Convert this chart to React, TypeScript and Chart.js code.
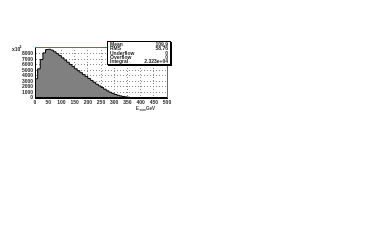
import React, { useEffect, useRef } from "react";
import { Chart, registerables } from "chart.js";

Chart.register(...registerables);

const BIN_WIDTH = 10;
const counts = [
  1500, 3500, 5300, 7000, 8200, 8800, 8850, 8700, 8400, 8050,
  7700, 7300, 6900, 6500, 6100, 5700, 5300, 4950, 4600, 4250,
  3900, 3550, 3200, 2850, 2500, 2200, 1900, 1600, 1300, 1050,
  850, 650, 500, 380, 280, 200, 140, 90, 60, 40,
  20, 10, 0, 0, 0, 0, 0, 0, 0, 0,
];
const xTicks = [0, 50, 100, 150, 200, 250, 300, 350, 400, 450, 500];
const yTicks = [0, 1000, 2000, 3000, 4000, 5000, 6000, 7000, 8000];
const statLabels = ["Mean", "RMS", "Underflow", "Overflow", "Integral"];
const statValues = ["109.9", "58.76", "0", "0", "2.323e+04"];

const FONT = "Liberation Sans";

const overlay = {
  id: "overlay",
  afterDraw(chart: any) {
    const { ctx, chartArea } = chart;
    const { left, right, top, bottom } = chartArea;
    const bx = 107, by = 41, bw = 64, bh = 24;
    ctx.save();
    ctx.lineWidth = 1;
    // axes
    ctx.strokeStyle = "#000";
    ctx.beginPath();
    ctx.moveTo(Math.round(left) + 0.5, top);
    ctx.lineTo(Math.round(left) + 0.5, bottom);
    ctx.moveTo(left, Math.round(bottom) - 0.5);
    ctx.lineTo(right, Math.round(bottom) - 0.5);
    ctx.stroke();
    // frame
    ctx.strokeStyle = "#b04c4c";
    ctx.beginPath();
    ctx.moveTo(left, Math.round(top) + 0.5);
    ctx.lineTo(bx, Math.round(top) + 0.5);
    ctx.moveTo(Math.round(right) + 0.5, by + bh);
    ctx.lineTo(Math.round(right) + 0.5, bottom);
    ctx.stroke();
    // stats box
    ctx.fillStyle = "#000";
    ctx.fillRect(bx + 1, by + 1, bw, bh);
    ctx.fillStyle = "#fff";
    ctx.fillRect(bx, by, bw, bh);
    ctx.strokeStyle = "#000";
    ctx.strokeRect(bx + 0.5, by + 0.5, bw - 1, bh - 1);
    ctx.fillStyle = "#222";
    ctx.font = `bold 5px "${FONT}"`;
    ctx.textBaseline = "middle";
    const lh = (bh - 2) / statLabels.length;
    statLabels.forEach((l, i) => {
      const y = by + 1 + lh * (i + 0.5) + 0.3;
      ctx.textAlign = "left";
      ctx.fillText(l, bx + 3, y);
      ctx.textAlign = "right";
      ctx.fillText(statValues[i], bx + bw - 3, y);
    });
    // x title
    ctx.textAlign = "left";
    ctx.textBaseline = "alphabetic";
    ctx.fillStyle = "#333";
    ctx.font = `bold 4.5px "${FONT}"`;
    ctx.fillText("E", 136, 110);
    ctx.font = `bold 3px "${FONT}"`;
    ctx.fillText("sum", 139.5, 111);
    ctx.font = `bold 4.5px "${FONT}"`;
    ctx.fillText("GeV", 146, 110);
    // y multiplier
    ctx.fillStyle = "#222";
    ctx.font = `bold 5px "${FONT}"`;
    ctx.fillText("x10", 12, 51);
    ctx.font = `bold 3.5px "${FONT}"`;
    ctx.fillText("2", 19.5, 48);
    ctx.restore();
  },
};

export default function App() {
  const ref = useRef<HTMLCanvasElement>(null);
  useEffect(() => {
    if (!ref.current) return;
    const pts = counts.map((c, i) => ({ x: i * BIN_WIDTH, y: c }));
    pts.push({ x: counts.length * BIN_WIDTH, y: 0 });
    const chart = new Chart(ref.current, {
      type: "line",
      data: {
        datasets: [
          {
            data: [{ x: 0, y: 0 }, ...pts],
            stepped: "after",
            fill: "origin",
            backgroundColor: "#808080",
            borderColor: "#000",
            borderWidth: 1,
            pointRadius: 0,
          } as any,
        ],
      },
      options: {
        responsive: false,
        animation: false,
        layout: { padding: { left: 0, top: 47, right: 225, bottom: 0 } },
        plugins: { legend: { display: false }, tooltip: { enabled: false } },
        scales: {
          x: {
            type: "linear",
            min: 0,
            max: 500,
            afterFit: (s: any) => {
              s.height = 142;
            },
            afterBuildTicks: (s: any) => {
              s.ticks = xTicks.map((v) => ({ value: v }));
            },
            border: { color: "#000", width: 1, dash: [1, 2] },
            grid: {
              color: "#888",
              lineWidth: 1,
              drawTicks: false,
            },
            ticks: {
              padding: 2,
              maxRotation: 0,
              autoSkip: false,
              color: "#222",
              font: { family: FONT, size: 5, weight: "bold" },
              callback: (v: any) => String(v),
            },
          },
          y: {
            type: "linear",
            min: 0,
            max: 9270,
            afterFit: (s: any) => {
              s.width = 35;
            },
            afterBuildTicks: (s: any) => {
              s.ticks = yTicks.map((v) => ({ value: v }));
            },
            border: { color: "#000", width: 1, dash: [1, 2] },
            grid: {
              color: "#888",
              lineWidth: 1,
              drawTicks: false,
            },
            ticks: {
              padding: 2,
              autoSkip: false,
              color: "#222",
              font: { family: FONT, size: 5, weight: "bold" },
              callback: (v: any) => String(v),
            },
          },
        },
      },
      plugins: [overlay],
    });
    return () => chart.destroy();
  }, []);
  return (
    <canvas
      ref={ref}
      width={392}
      height={240}
      style={{ position: "fixed", left: 0, top: 0, width: 392, height: 240, background: "#fff" }}
    />
  );
}
